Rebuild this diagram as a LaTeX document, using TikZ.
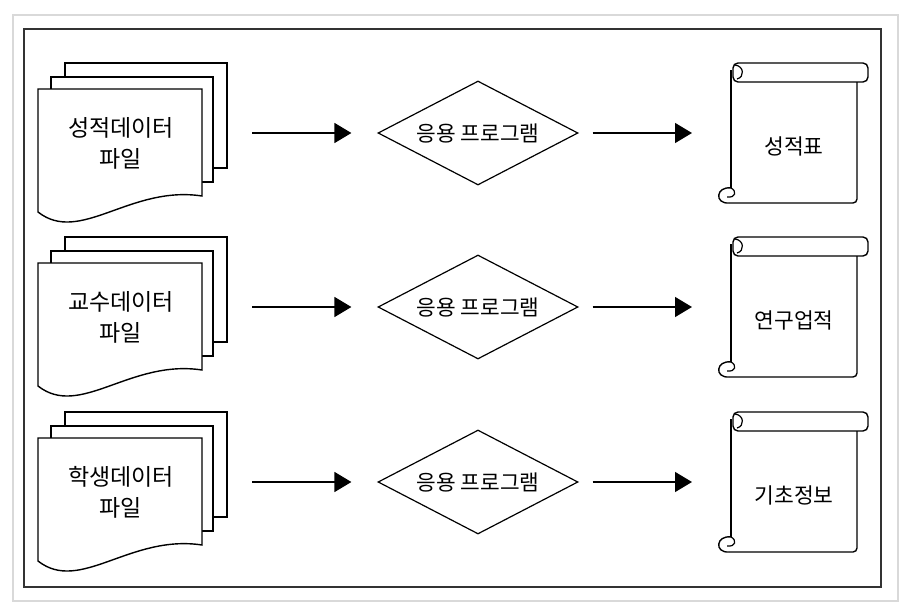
\documentclass[tikz,border=0pt]{standalone}
\usepackage{fontspec}
\setmainfont{Noto Sans CJK KR}
\usetikzlibrary{shapes.geometric,arrows.meta}
\begin{document}
\begin{tikzpicture}[x=1pt,y=-1pt,
    sheet/.style={draw,fill=white,line width=1.4pt},
    flowarrow/.style={line width=1.5pt,-{Triangle[length=17pt,width=20pt]}},
    progbox/.style={draw,shape=diamond,aspect=1.9,inner sep=0pt,
        minimum width=200pt,minimum height=104pt,line width=1.2pt,font=\fontsize{21.4}{21}\selectfont},
    label/.style={align=center,font=\fontsize{23}{31}\selectfont},
    scrolltext/.style={font=\fontsize{21.5}{22}\selectfont}]
    \useasboundingbox (0,0) rectangle (914,616);
    \draw[gray!30,line width=2pt] (13,15) rectangle (898,601);
    \draw[black!80,line width=2.2pt] (24,29) rectangle (881,587);
    \foreach \dy/\intext/\outtext [count=\i] in
        {0/성적데이터\\파일/성적표, 174/교수데이터\\파일/연구업적, 349/학생데이터\\파일/기초정보}
    {
        % stacked data files
        \draw[sheet] (65,63+\dy) rectangle (227,168+\dy);
        \draw[sheet] (51,77+\dy) rectangle (213,182+\dy);
        \draw[sheet] (38,89+\dy) -- (202,89+\dy) -- (202,196+\dy)
            .. controls (130,185+\dy) and (80,245+\dy) .. (38,212+\dy) -- cycle;
        \node[label] (data\i) at (121,143+\dy) {\intext};
        % program
        \node[progbox] (prog\i) at (478,133+\dy) {응용 프로그램};
        \coordinate (src\i) at (252,133+\dy);
        \coordinate (dst\i) at (692,133+\dy);
        \draw[flowarrow] (src\i) -- ([xshift=-26pt]prog\i.west);
        \draw[flowarrow] ([xshift=14pt]prog\i.east) -- (dst\i);
        % report scroll
        \draw[line width=1.4pt,rounded corners=5pt] (733,63+\dy) rectangle (868,82+\dy);
        \draw[line width=1.2pt] (735,65+\dy) .. controls (744,66+\dy) and (745,77+\dy) .. (737,79+\dy);
        \draw[line width=1.4pt] (731,70+\dy) -- (731,188+\dy);
        \draw[line width=1.4pt,rounded corners=4pt] (857,82+\dy) -- (857,203+\dy) -- (729,203+\dy);
        \draw[line width=1.4pt] (731,188+\dy) .. controls (716,186+\dy) and (714,204+\dy) .. (729,203+\dy);
        \draw[line width=1.2pt] (731,188+\dy) .. controls (737,191+\dy) and (736,198+\dy) .. (727,197+\dy);
        \node[scrolltext] (report\i) at (794,146+\dy) {\outtext};
    }
\end{tikzpicture}
\end{document}
